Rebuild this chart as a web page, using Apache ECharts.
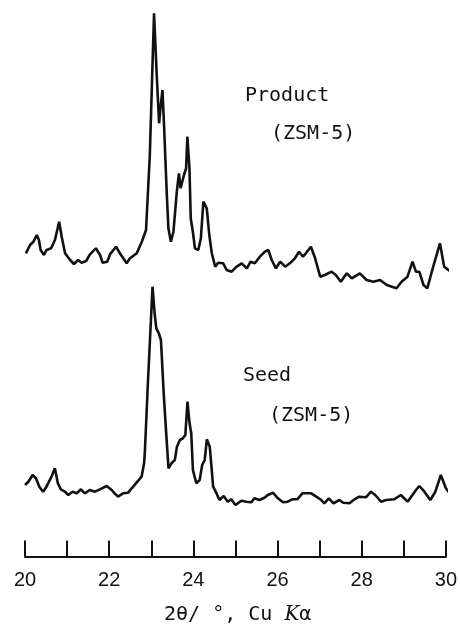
<!DOCTYPE html>
<html>
<head>
<meta charset="utf-8">
<script src="https://cdn.jsdelivr.net/npm/echarts@6/dist/echarts.min.js"></script>
<style>
html,body{margin:0;padding:0;background:#fff;}
#chart{width:460px;height:631px;}
</style>
</head>
<body>
<div id="chart"></div>
<script>
// 2θ (degrees) and intensity (arbitrary units)
var productTheta = [20.02,20.12,20.20,20.28,20.33,20.37,20.45,20.51,20.62,20.71,20.81,20.87,20.95,21.07,21.16,21.26,21.34,21.45,21.54,21.68,21.78,21.84,21.95,22.02,22.16,22.25,22.41,22.49,22.65,22.77,22.87,22.90,22.96,23.06,23.12,23.18,23.22,23.26,23.30,23.36,23.40,23.46,23.52,23.60,23.65,23.69,23.77,23.82,23.85,23.90,23.93,23.98,24.03,24.11,24.17,24.23,24.31,24.37,24.43,24.51,24.58,24.70,24.78,24.90,25.02,25.14,25.26,25.35,25.45,25.57,25.69,25.77,25.85,25.95,26.05,26.17,26.28,26.40,26.50,26.59,26.66,26.78,26.88,27.00,27.11,27.27,27.37,27.49,27.63,27.75,27.94,28.10,28.26,28.42,28.58,28.70,28.81,28.93,29.07,29.19,29.27,29.35,29.45,29.54,29.68,29.84,29.94,30.04,30.14];
var productIntensity = [36.7,45,48.3,55,50,40,35,40,41.7,50,68.3,53.3,36.7,30,26,30,27.3,29,35.7,41.7,35,27.3,28.3,36,43.3,36.7,26.7,31.7,36.7,48.3,60,60,135,276.7,218.3,166.7,185,200,161.7,98.3,61.7,48.3,58.3,98.3,116.7,101.7,115,121.7,153.3,121.7,71.7,58.3,41.7,40,51.7,88.3,81.7,55,36.7,23.3,27.3,26.7,20,18.3,23.3,26.7,21.7,28.3,26.7,33.3,38.3,40,30,21.7,28.3,23.3,26.7,31.7,38.3,33.3,36.7,43.3,31.7,13.3,15,18.3,15,8.3,16.7,11.7,16.7,10,8.3,10,5,3.3,1.7,8.3,13.3,28.3,18.3,18.3,5,1.7,23.3,46.7,23.3,20,17.3];

var seedTheta = [20.00,20.08,20.18,20.26,20.34,20.43,20.51,20.63,20.71,20.78,20.85,20.95,21.03,21.13,21.23,21.33,21.42,21.54,21.66,21.78,21.94,22.06,22.13,22.21,22.33,22.45,22.57,22.69,22.77,22.83,22.85,22.92,23.03,23.08,23.12,23.18,23.23,23.30,23.36,23.41,23.48,23.56,23.61,23.68,23.75,23.81,23.86,23.91,23.95,23.99,24.07,24.15,24.21,24.27,24.32,24.39,24.43,24.47,24.55,24.62,24.72,24.82,24.90,25.00,25.14,25.26,25.38,25.45,25.57,25.69,25.77,25.89,26.01,26.13,26.24,26.35,26.47,26.59,26.69,26.80,26.92,27.04,27.11,27.22,27.33,27.47,27.56,27.71,27.83,27.94,28.10,28.22,28.32,28.46,28.58,28.77,28.93,29.09,29.29,29.37,29.49,29.63,29.75,29.88,30.00,30.12];
var seedIntensity = [25,28.3,35,31.7,23.3,18.3,23.3,33.3,41.7,26.7,20.7,18.3,15,18.3,16.7,20.7,16.7,20,18.3,20.7,24,20,16.7,13.3,16.7,17.3,23.3,29.3,33.3,46.7,60,126.7,223.3,196.7,181.7,176.7,170,113.3,73.3,41.7,46.7,50,63.3,70,71.7,75,108.3,86.7,76.7,40,26.7,30,45,50,70.7,63.3,43.3,23.3,16.7,10,14,8.3,10.7,5,9.3,8.3,7.7,11.7,10,12.3,15,17.3,11.7,7.7,8.3,10.7,10.7,16.7,16.7,16.7,13.3,10,6.7,11.7,6.7,10,7.3,6.7,10.7,13.3,12.7,18.3,15,8.3,10,10.7,15,8.3,20,24,18.3,10,18.3,35,21.7,15];

var xTicks = [20,21,22,23,24,25,26,27,28,29,30];
var xLabels = ['20','','22','','24','','26','','28','','30'];

function pairs(xs, ys){ return xs.map(function(x,i){ return [x, ys[i]]; }); }

var chart = echarts.init(document.getElementById('chart'), null, {renderer:'canvas'});
var monoFont = '"DejaVu Sans Mono", "Liberation Mono", monospace';
chart.setOption({
  backgroundColor: '#ffffff',
  animation: false,
  grid: [
    {left: 25, right: 13.3, top: 0, height: 290},
    {left: 25, right: 13.3, top: 220, height: 290}
  ],
  xAxis: [
    {gridIndex: 0, type: 'value', min: xTicks[0], max: xTicks[xTicks.length-1], interval: 1, show: false},
    {gridIndex: 1, type: 'value', min: xTicks[0], max: xTicks[xTicks.length-1], interval: 1,
     position: 'bottom',
     offset: 46.5,
     axisLine: {show: true, onZero: false, lineStyle: {color: '#111', width: 2}},
     axisTick: {show: true, inside: true, length: 16, lineStyle: {color: '#111', width: 2}},
     splitLine: {show: false},
     axisLabel: {
       margin: 14,
       color: '#111',
       fontSize: 20,
       fontFamily: '"Liberation Sans", Arial, sans-serif',
       formatter: function(v){ var i = xTicks.indexOf(Math.round(v)); return i >= 0 ? xLabels[i] : ''; }
     }
    }
  ],
  yAxis: [
    {gridIndex: 0, type: 'value', min: 0, max: 290, show: false},
    {gridIndex: 1, type: 'value', min: 0, max: 290, show: false}
  ],
  series: [
    {name: 'Product', type: 'line', xAxisIndex: 0, yAxisIndex: 0, data: pairs(productTheta, productIntensity),
     showSymbol: false, clip: false, lineStyle: {color: '#111', width: 2.6}},
    {name: 'Seed', type: 'line', xAxisIndex: 1, yAxisIndex: 1, data: pairs(seedTheta, seedIntensity),
     showSymbol: false, clip: false, lineStyle: {color: '#111', width: 2.6}}
  ],
  graphic: [
    {type: 'text', left: 245, top: 86, style: {text: 'Product', font: '20px ' + monoFont, fill: '#111'}},
    {type: 'text', left: 271, top: 124, style: {text: '(ZSM-5)', font: '20px ' + monoFont, fill: '#111'}},
    {type: 'text', left: 243, top: 366, style: {text: 'Seed', font: '20px ' + monoFont, fill: '#111'}},
    {type: 'text', left: 269, top: 406, style: {text: '(ZSM-5)', font: '20px ' + monoFont, fill: '#111'}},
    {type: 'text', left: 164, top: 605, style: {
      text: '2θ/ °, Cu {i|K}α',
      font: '20px ' + monoFont, fill: '#111',
      rich: {i: {fontStyle: 'italic', fontFamily: 'DejaVu Serif, serif', fontSize: 20, fill: '#111'}}
    }}
  ]
});
</script>
</body>
</html>
